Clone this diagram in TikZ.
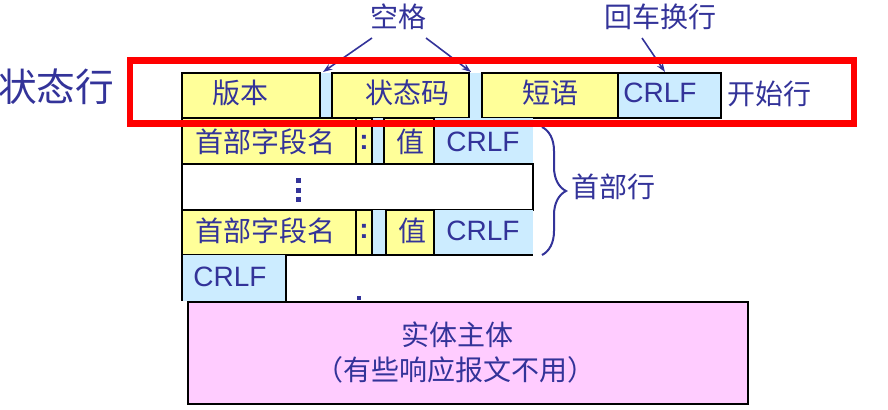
\documentclass[tikz,border=0pt]{standalone}
\usepackage{fontspec}
\setmainfont{Liberation Sans}
\newfontfamily\cjk{Noto Sans CJK SC}
\usetikzlibrary{arrows.meta,decorations.pathreplacing,calc,fit}
\definecolor{txt}{RGB}{51,51,153}
\definecolor{ylw}{RGB}{255,255,153}
\definecolor{lblue}{RGB}{204,236,255}
\definecolor{pinkf}{RGB}{255,204,255}
\definecolor{redl}{RGB}{255,0,0}
\begin{document}
\begin{tikzpicture}[x=0.75pt,y=-0.75pt,
  boxbase/.style={rectangle,inner sep=0pt,outer sep=0pt,line width=0.8pt},
  ybox/.style={boxbase,fill=ylw,draw=black},
  bbox/.style={boxbase,fill=lblue},
  wbox/.style={boxbase,fill=white,draw=black},
  pbox/.style={boxbase,fill=pinkf,draw=black},
  lbl/.style={inner sep=0pt,outer sep=0pt,text=txt,font=\fontsize{21}{21}\selectfont},
  biglbl/.style={inner sep=0pt,outer sep=0pt,text=txt,font=\fontsize{29}{29}\selectfont},
  arr/.style={draw=txt,line width=1.2pt,-{Stealth[length=7pt,width=5pt]}}
]
\useasboundingbox (0,0) rectangle (888,410);
% ---- row 1 (status line)
\node[bbox,fit={(318,73)(334,118)}] (gap1) {};
\node[bbox,fit={(467,73)(484,118)}] (gap2) {};
\node[ybox,fit={(182,73)(320,118)}] (v1) {};
\node[ybox,fit={(332,73)(469,118)}] (v2) {};
\node[ybox,fit={(482,73)(618,118)}] (v3) {};
\node[bbox,draw=black,fit={(618,73)(721,118)}] (crlf1) {};
\node[lbl] (t1) at (240,93) {\cjk 版本};
\node[lbl] (t2) at (407,93) {\cjk 状态码};
\node[lbl] (t3) at (550,93) {\cjk 短语};
\node[lbl] (c1) at (660,93) {CRLF};
\node[lbl] (start) at (769,93.5) {\cjk 开始行};
\node[biglbl] (status) at (56,87) {\cjk 状态行};
% ---- header row 1
\node[bbox,fit={(372,118)(384,164)}] (hg1) {};
\node[bbox,fit={(434,118)(533,164)}] (hc1) {};
\node[ybox,fit={(182,118)(356,164)}] (hn1) {};
\node[ybox,fit={(356,118)(372,164)}] (hk1) {};
\node[ybox,fit={(384,118)(434,164)}] (hv1) {};
\node[lbl] (hn1t) at (265,142) {\cjk 首部字段名};
\node[lbl] (hk1t) at (364,142) {\bfseries :};
\node[lbl] (hv1t) at (410,142) {\cjk 值};
\node[lbl] (hc1t) at (483,142) {CRLF};
% ---- dots row
\node[wbox,fit={(182,164)(533,210)}] (dotsrow) {};
\fill[txt] (296,178) rectangle (301,183);
\fill[txt] (296,188) rectangle (301,193);
\fill[txt] (296,197) rectangle (301,202);
% ---- header row 2
\node[bbox,fit={(372,210)(386,255)}] (hg2) {};
\node[bbox,fit={(434,210)(533,255)}] (hc2) {};
\node[ybox,fit={(182,210)(356,255)}] (hn2) {};
\node[ybox,fit={(356,210)(372,255)}] (hk2) {};
\node[ybox,fit={(386,210)(434,255)}] (hv2) {};
\draw[line width=0.8pt] (hn2.south west) -- (hc2.south east);
\node[lbl] (hn2t) at (265,231) {\cjk 首部字段名};
\node[lbl] (hk2t) at (364,231) {\bfseries :};
\node[lbl] (hv2t) at (412,231) {\cjk 值};
\node[lbl] (hc2t) at (483,231) {CRLF};
% ---- empty line CRLF
\node[bbox,fit={(182,255)(286,301)}] (crlf3) {};
\draw[line width=0.8pt] (crlf3.north west) -- (crlf3.south west);
\draw[line width=0.8pt] (crlf3.north east) -- (crlf3.south east);
\node[lbl] (c3) at (230,277) {CRLF};
\fill[txt] (357,296) rectangle (361,300);
% ---- entity body
\node[pbox,fit={(188,302)(748,404)}] (body) {};
\node[lbl] (b1) at (457,335) {\cjk 实体主体};
\node[lbl] (b2) at (455,370) {\cjk （有些响应报文不用）};
% ---- header brace
\coordinate (bt) at (542,127);
\coordinate (bb) at (542,255);
\draw[txt,line width=1.5pt,decorate,decoration={brace,amplitude=18pt}] (bt) -- (bb);
\node[lbl,anchor=west] (hdr) at (571,187) {\cjk 首部行};
% ---- top labels and arrows
\node[lbl] (space) at (398,16.5) {\cjk 空格};
\node[lbl] (crlfl) at (660,16.5) {\cjk 回车换行};
\draw[arr] ($(space)+(-26,21.5)$) -- ($(gap1.north)+(-3,-1)$);
\draw[arr] ($(space)+(28,21.5)$) -- ($(gap2.north)+(-4.5,-1)$);
\draw[arr] ($(crlfl)+(-18,21.5)$) -- ($(crlf1.north)+(-4.5,-1)$);
% ---- red frame
\draw[redl,line width=4.8pt] (130,60.5) rectangle (854,123.5);
\end{tikzpicture}
\end{document}
